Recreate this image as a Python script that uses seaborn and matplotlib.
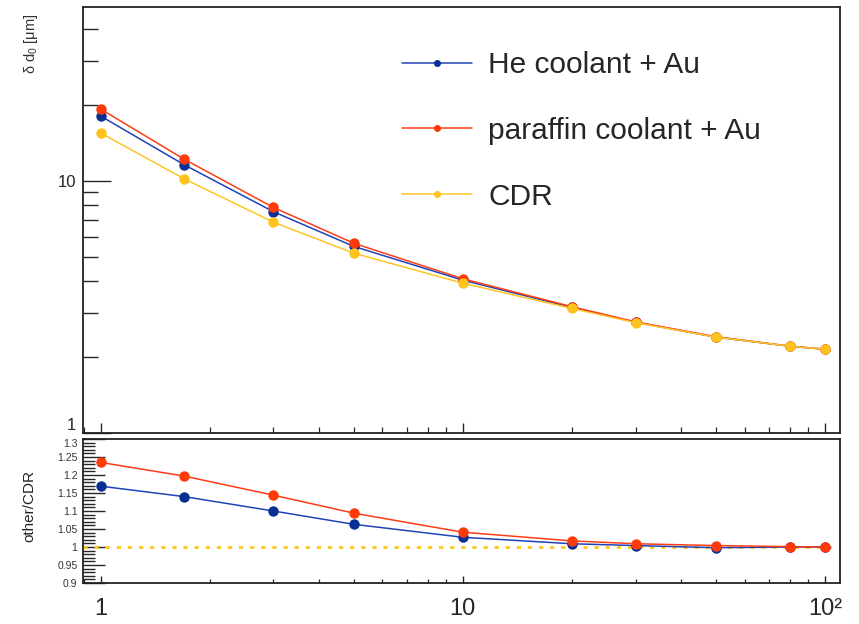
import numpy as np
import pandas as pd
import matplotlib
matplotlib.use("Agg")
import matplotlib.pyplot as plt
import matplotlib.ticker as mticker
import seaborn as sns

# ---------------- data ----------------
momentum = [1, 1.7, 3, 5, 10, 20, 30, 50, 80, 100]
he_au = [18.1, 11.6, 7.55, 5.50, 4.04, 3.15, 2.75, 2.40, 2.21, 2.15]
paraffin_au = [19.3, 12.2, 7.85, 5.66, 4.09, 3.17, 2.76, 2.41, 2.21, 2.15]
cdr = [15.5, 10.2, 6.86, 5.17, 3.93, 3.12, 2.74, 2.40, 2.21, 2.15]
he_ratio = [1.169, 1.140, 1.100, 1.063, 1.027, 1.009, 1.004, 0.998, 1.000, 1.000]
paraffin_ratio = [1.235, 1.197, 1.144, 1.094, 1.041, 1.017, 1.009, 1.004, 1.001, 1.000]

series_names = ["He coolant + Au", "paraffin coolant + Au", "CDR"]
line_colors = ["#1f44b8", "#ff3d14", "#ffc526"]
marker_colors = ["#0a2f94", "#ff3a0a", "#ffc21f"]
top_y_ticklabels = {1: "1", 10: "10"}
x_ticklabels = {1: "1", 10: "10", 100: "10²"}
top_ylabel = "δ d$_0$ [μm]"
bottom_ylabel = "other/CDR"

# ---------------- style ----------------
sns.set_style("ticks")
plt.rcParams["font.family"] = ["Liberation Sans", "DejaVu Sans"]
plt.rcParams["mathtext.fontset"] = "custom"
plt.rcParams["mathtext.rm"] = "Liberation Sans"
plt.rcParams["mathtext.it"] = "Liberation Sans:italic"

W, H = 859, 624
fig = plt.figure(figsize=(W / 100, H / 100), dpi=100)

def ax_rect(l, t, r, b):
    return [l / W, 1 - b / H, (r - l) / W, (b - t) / H]

ax_top = fig.add_axes(ax_rect(83, 7, 840, 433))
ax_bot = fig.add_axes(ax_rect(83, 439, 840, 583), sharex=ax_top)

# ---------------- top panel ----------------
top_values = [he_au, paraffin_au, cdr]
for name, vals, lc, mc in zip(series_names, top_values, line_colors, marker_colors):
    sns.lineplot(x=momentum, y=vals, ax=ax_top, color=lc, linewidth=1.1,
                 marker="o", markersize=7.5, markerfacecolor=mc,
                 markeredgewidth=0, label=name, sort=True)

ax_top.set_xscale("log")
ax_top.set_yscale("log")
ax_top.set_xlim(0.894, 110)
ax_top.set_ylim(1, 49)
ax_top.yaxis.set_major_locator(mticker.FixedLocator([1, 10]))
ax_top.yaxis.set_major_formatter(mticker.FuncFormatter(
    lambda v, p: top_y_ticklabels.get(int(round(v)), "")))
ax_top.yaxis.set_minor_locator(mticker.LogLocator(base=10, subs=np.arange(2, 10), numticks=20))
ax_top.yaxis.set_minor_formatter(mticker.NullFormatter())
ax_top.tick_params(axis="y", which="major", direction="in", length=20, width=1.0,
                   labelsize=12, pad=5)
ax_top.tick_params(axis="y", which="minor", direction="in", length=10.5, width=1.0)
ax_top.tick_params(axis="x", which="major", direction="in", length=7, width=1.0,
                   labelbottom=False)
ax_top.tick_params(axis="x", which="minor", direction="in", length=4, width=0.9)
ax_top.set_xlabel("")
ax_top.set_ylabel("")

leg = ax_top.legend(loc="upper left", bbox_to_anchor=(402 / W, 1 - 51 / H),
                    bbox_transform=fig.transFigure, frameon=False, fontsize=21.5,
                    handlelength=2.34, handletextpad=0.54, labelspacing=1.27,
                    borderpad=0, borderaxespad=0, markerscale=0.67)

# ---------------- bottom panel ----------------
ax_bot.axhline(1.0, color="#ffc61a", linestyle=(0, (1.5, 2.5)), linewidth=2.0, zorder=1)
ratio_values = [he_ratio, paraffin_ratio]
for name, vals, lc, mc in zip(series_names[:2], ratio_values, line_colors[:2], marker_colors[:2]):
    sns.lineplot(x=momentum, y=vals, ax=ax_bot, color=lc, linewidth=1.1,
                 marker="o", markersize=7.5, markerfacecolor=mc,
                 markeredgewidth=0, sort=True, legend=False, zorder=3)

ax_bot.set_ylim(0.9, 1.3)
ax_bot.yaxis.set_major_locator(mticker.FixedLocator(
    [0.9, 0.95, 1.0, 1.05, 1.1, 1.15, 1.2, 1.25, 1.3]))
ax_bot.yaxis.set_minor_locator(mticker.MultipleLocator(0.01))
ax_bot.yaxis.set_major_formatter(mticker.FuncFormatter(lambda v, p: f"{round(v, 3):g}"))
ax_bot.xaxis.set_major_locator(mticker.FixedLocator([1, 10, 100]))
ax_bot.xaxis.set_major_formatter(mticker.FuncFormatter(
    lambda v, p: x_ticklabels.get(int(round(v)), "")))
ax_bot.xaxis.set_minor_locator(mticker.LogLocator(base=10, subs=np.arange(2, 10), numticks=20))
ax_bot.xaxis.set_minor_formatter(mticker.NullFormatter())
ax_bot.tick_params(axis="y", which="major", direction="in", length=16, width=1.0,
                   labelsize=7.5, pad=4, labelcolor="#333333")
ax_bot.tick_params(axis="y", which="minor", direction="in", length=8.5, width=1.0)
ax_bot.tick_params(axis="x", which="major", direction="in", length=5, width=1.0,
                   labelsize=17, pad=11)
ax_bot.tick_params(axis="x", which="minor", direction="in", length=3, width=0.9)
ax_bot.set_xlabel("")
ax_bot.set_ylabel("")

for ax in (ax_top, ax_bot):
    for s in ax.spines.values():
        s.set_visible(True)
        s.set_linewidth(1.3)
        s.set_color("#222222")

# keep the stacked "1" (top panel) and "1.3" (ratio panel) labels apart
fig.canvas.draw()
ax_top.yaxis.get_major_ticks()[0].label1.set_verticalalignment("bottom")
ax_bot.yaxis.get_major_ticks()[-1].label1.set_verticalalignment("top")

# ---------------- axis titles ----------------
fig.text(31 / W, 1 - 14 / H, top_ylabel, rotation=90, ha="center", va="top", fontsize=10.5,
         color="#333333")
fig.text(29 / W, 1 - 506 / H, bottom_ylabel, rotation=90, ha="center", va="center",
         fontsize=11, color="#222222")

fig.savefig("out.png", dpi=100)
